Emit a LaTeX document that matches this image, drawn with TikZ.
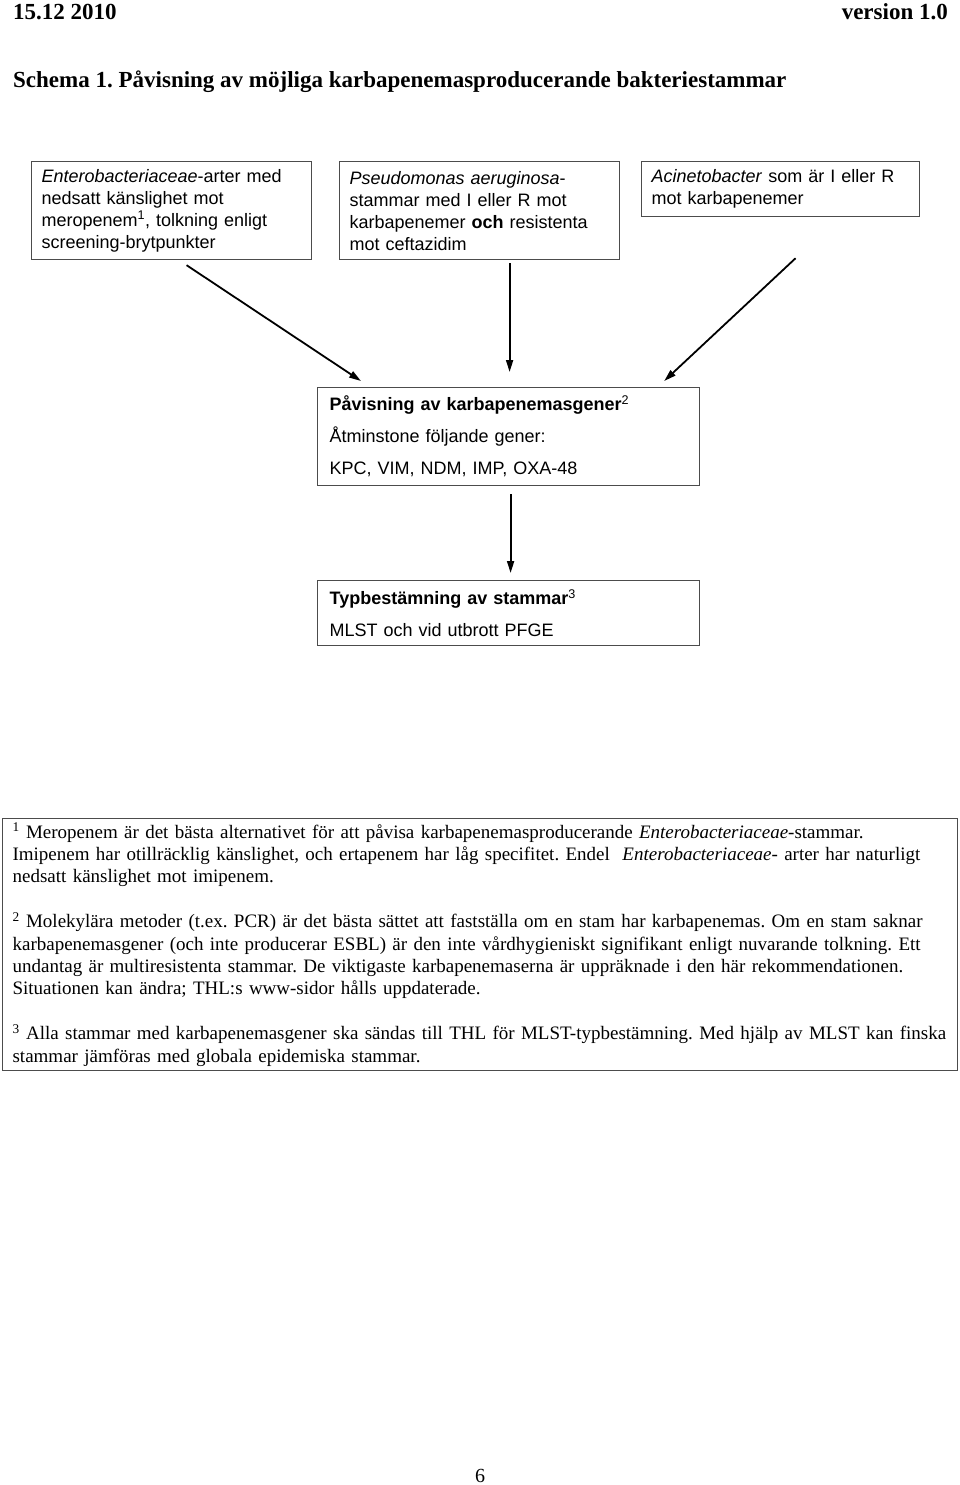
\documentclass[tikz,border=0pt]{standalone}
\usepackage{fontspec}
\setmainfont{Liberation Serif}
\setsansfont{Liberation Sans}
\usetikzlibrary{arrows.meta,calc,positioning}

\tikzset{
  kbox/.style={draw=black!70,line width=1.2pt,anchor=north west,align=left,
    inner xsep=10pt,inner ysep=0pt,font=\sffamily\fontsize{18}{22}\selectfont},
  lbox/.style={kbox,inner xsep=12pt,text width=358pt,font=\sffamily\fontsize{18}{32}\selectfont},
  head/.style={inner sep=0pt,font=\bfseries\fontsize{23}{27}\selectfont},
  arr/.style={-{Triangle[length=12pt,width=7pt]},line width=1.8pt},
}

\begin{document}
\frenchspacing
\begin{tikzpicture}[x=1pt,y=-1pt]
    \useasboundingbox (0,0) rectangle (960,1485);
    \node[head,anchor=base west] (date) at (13,20) {15.12 2010};
    \node[head,anchor=base east] (ver) at (948,20) {version 1.0};
    \node[head,anchor=base west] (title) at (13,88) {Schema 1. Påvisning av möjliga karbapenemasproducerande bakteriestammar};

    \node[kbox,text width=260pt,minimum height=98pt] (ent) at (31,161)
      {\textit{Enterobacteriaceae}-arter med\\nedsatt känslighet mot\\meropenem\textsuperscript{1}, tolkning enligt\\screening-brytpunkter};
    \node[kbox,text width=260pt,minimum height=98pt] (pse) at (339,161)
      {\textit{Pseudomonas aeruginosa}-\\stammar med I eller R mot\\karbapenemer \textbf{och} resistenta\\mot ceftazidim};
    \node[kbox,text width=258pt,minimum height=55pt] (aci) at (641,161)
      {\textit{Acinetobacter} som är I eller R\\mot karbapenemer};

    \node[lbox,minimum height=98pt] (pav) at (317,387)
      {\textbf{Påvisning av karbapenemasgener}\textsuperscript{2}\\Åtminstone följande gener:\\KPC, VIM, NDM, IMP, OXA-48};
    \node[lbox,minimum height=65pt] (typ) at (317,580)
      {\textbf{Typbestämning av stammar}\textsuperscript{3}\\MLST och vid utbrott PFGE};

    \draw[arr] ($(ent.south)+(15,5)$) -- ($(pav.north west)+(44,-6)$);
    \draw[arr] ($(pse.south)+(30,3)$) -- ($(pav.north)+(1,-15)$);
    \draw[arr] ($(aci.south)+(15,41)$) -- ($(pav.north east)+(-36,-6)$);
    \draw[arr] ($(pav.south)+(2,8)$) -- ($(typ.north)+(2,-7)$);

    \node[draw=black!70,line width=1.2pt,anchor=north west,align=left,text width=935pt,
      minimum height=252pt,inner xsep=10pt,inner ysep=0pt,font=\fontsize{19}{22.4}\selectfont] (notes) at (2,818)
      {\textsuperscript{1} Meropenem är det bästa alternativet för att påvisa karbapenemasproducerande \textit{Enterobacteriaceae}-stammar.\\
       Imipenem har otillräcklig känslighet, och ertapenem har låg specifitet. Endel\ \ \textit{Enterobacteriaceae}- arter har naturligt\\
       nedsatt känslighet mot imipenem.\\[22.4pt]
       \textsuperscript{2} Molekylära metoder (t.ex. PCR) är det bästa sättet att fastställa om en stam har karbapenemas. Om en stam saknar\\
       karbapenemasgener (och inte producerar ESBL) är den inte vårdhygieniskt signifikant enligt nuvarande tolkning. Ett\\
       undantag är multiresistenta stammar. De viktigaste karbapenemaserna är uppräknade i den här rekommendationen.\\
       Situationen kan ändra; THL:s www-sidor hålls uppdaterade.\\[22.4pt]
       \textsuperscript{3} Alla stammar med karbapenemasgener ska sändas till THL för MLST-typbestämning. Med hjälp av MLST kan finska\\
       stammar jämföras med globala epidemiska stammar.};

    \node[anchor=base,inner sep=0pt,font=\fontsize{20}{24}\selectfont] (page) at (480,1482) {6};
\end{tikzpicture}
\end{document}
